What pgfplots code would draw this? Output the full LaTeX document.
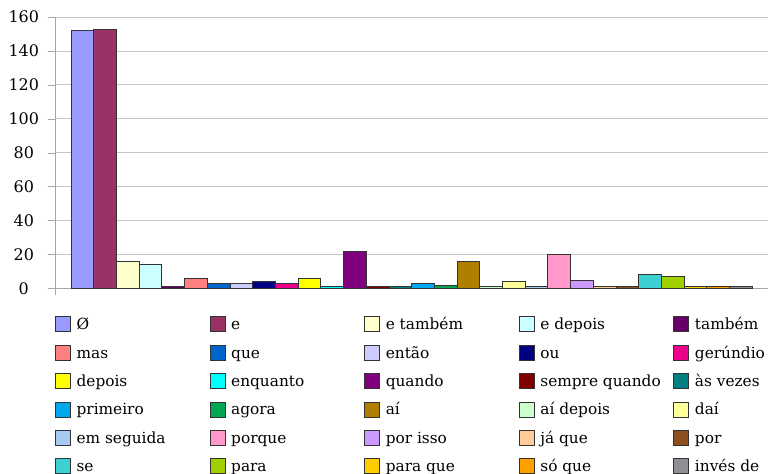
\documentclass[border=0pt]{standalone}
\usepackage{pgfplots}
\pgfplotsset{compat=1.18}
\usepackage{fontspec}
\setmainfont{DejaVu Serif}
\definecolor{c1}{HTML}{9999FF}
\definecolor{c2}{HTML}{993366}
\definecolor{c3}{HTML}{FFFFCC}
\definecolor{c4}{HTML}{CCFFFF}
\definecolor{c5}{HTML}{660066}
\definecolor{c6}{HTML}{FF8080}
\definecolor{c7}{HTML}{0066CC}
\definecolor{c8}{HTML}{CCCCFF}
\definecolor{c9}{HTML}{000080}
\definecolor{c10}{HTML}{EE0088}
\definecolor{c11}{HTML}{FFFF00}
\definecolor{c12}{HTML}{00FFFF}
\definecolor{c13}{HTML}{800080}
\definecolor{c14}{HTML}{800000}
\definecolor{c15}{HTML}{008080}
\definecolor{c16}{HTML}{00A8EC}
\definecolor{c17}{HTML}{00A651}
\definecolor{c18}{HTML}{AF7F00}
\definecolor{c19}{HTML}{CCFFCC}
\definecolor{c20}{HTML}{FFFF99}
\definecolor{c21}{HTML}{A6CAF0}
\definecolor{c22}{HTML}{FF99CC}
\definecolor{c23}{HTML}{CC99FF}
\definecolor{c24}{HTML}{FFCC99}
\definecolor{c25}{HTML}{8C5020}
\definecolor{c26}{HTML}{3CD0D0}
\definecolor{c27}{HTML}{A0D000}
\definecolor{c28}{HTML}{FFCC00}
\definecolor{c29}{HTML}{FFA000}
\definecolor{c30}{HTML}{909094}
\newcommand\lab[1]{\addlegendentry{\makebox[133bp][l]{\strut #1}}}
\newcommand\onebar[2]{\addplot[fill=#1] coordinates {(0,#2)};}
\begin{document}
\begin{tikzpicture}
\useasboundingbox (-55bp,-185.7bp) rectangle (713bp,288.3bp);
\begin{axis}[
  scale only axis,
  width=713bp, height=271.3bp,
  at={(0,0)}, anchor=south west,
  xmin=-0.5, xmax=0.5,
  ymin=0, ymax=160,
  ybar=0pt, bar width=22.7bp,
  every axis plot/.append style={draw=black!80, line width=0.6bp},
  axis lines*=left,
  axis line style={draw=gray!70},
  ytick={0,20,...,160},
  yticklabel={\makebox[32bp][c]{\fontsize{16}{18}\selectfont\pgfmathprintnumber[assume math mode=true]{\tick}}},
  xtick={-0.5,0.5}, xticklabels={,},
  tick align=outside,
  major tick length=7bp,
  tick style={draw=gray!70},
  ymajorgrids,
  grid style={draw=gray!45, line width=0.8bp},
  yticklabel style={text=black, inner sep=4bp, xshift=-4bp},
  legend columns=5,
  legend style={draw=none, at={(0,0)}, anchor=north west, yshift=-28bp,
    inner sep=0pt, outer sep=0pt,
    font=\fontsize{15.4}{18}\selectfont, row sep=12.8bp,
    nodes={inner sep=0pt, anchor=west, text=black},
    /tikz/every odd column/.style={column sep=6bp},
    /tikz/every even column/.style={column sep=0bp}},
  legend image code/.code={\draw[#1, draw=black!80, line width=0.6bp] (0bp,-7.5bp) rectangle (15bp,7.5bp);},
]
\onebar{c1}{152}\lab{Ø}
\onebar{c2}{153}\lab{e}
\onebar{c3}{16}\lab{e também}
\onebar{c4}{14}\lab{e depois}
\onebar{c5}{1}\lab{também}
\onebar{c6}{6}\lab{mas}
\onebar{c7}{3}\lab{que}
\onebar{c8}{3}\lab{então}
\onebar{c9}{4}\lab{ou}
\onebar{c10}{3}\lab{gerúndio}
\onebar{c11}{6}\lab{depois}
\onebar{c12}{1}\lab{enquanto}
\onebar{c13}{22}\lab{quando}
\onebar{c14}{1}\lab{sempre quando}
\onebar{c15}{1}\lab{às vezes}
\onebar{c16}{3}\lab{primeiro}
\onebar{c17}{2}\lab{agora}
\onebar{c18}{16}\lab{aí}
\onebar{c19}{1}\lab{aí depois}
\onebar{c20}{4}\lab{daí}
\onebar{c21}{1}\lab{em seguida}
\onebar{c22}{20}\lab{porque}
\onebar{c23}{5}\lab{por isso}
\onebar{c24}{1}\lab{já que}
\onebar{c25}{1}\lab{por}
\onebar{c26}{8}\lab{se}
\onebar{c27}{7}\lab{para}
\onebar{c28}{1}\lab{para que}
\onebar{c29}{1}\lab{só que}
\onebar{c30}{1}\lab{invés de}
\end{axis}
\end{tikzpicture}
\end{document}
